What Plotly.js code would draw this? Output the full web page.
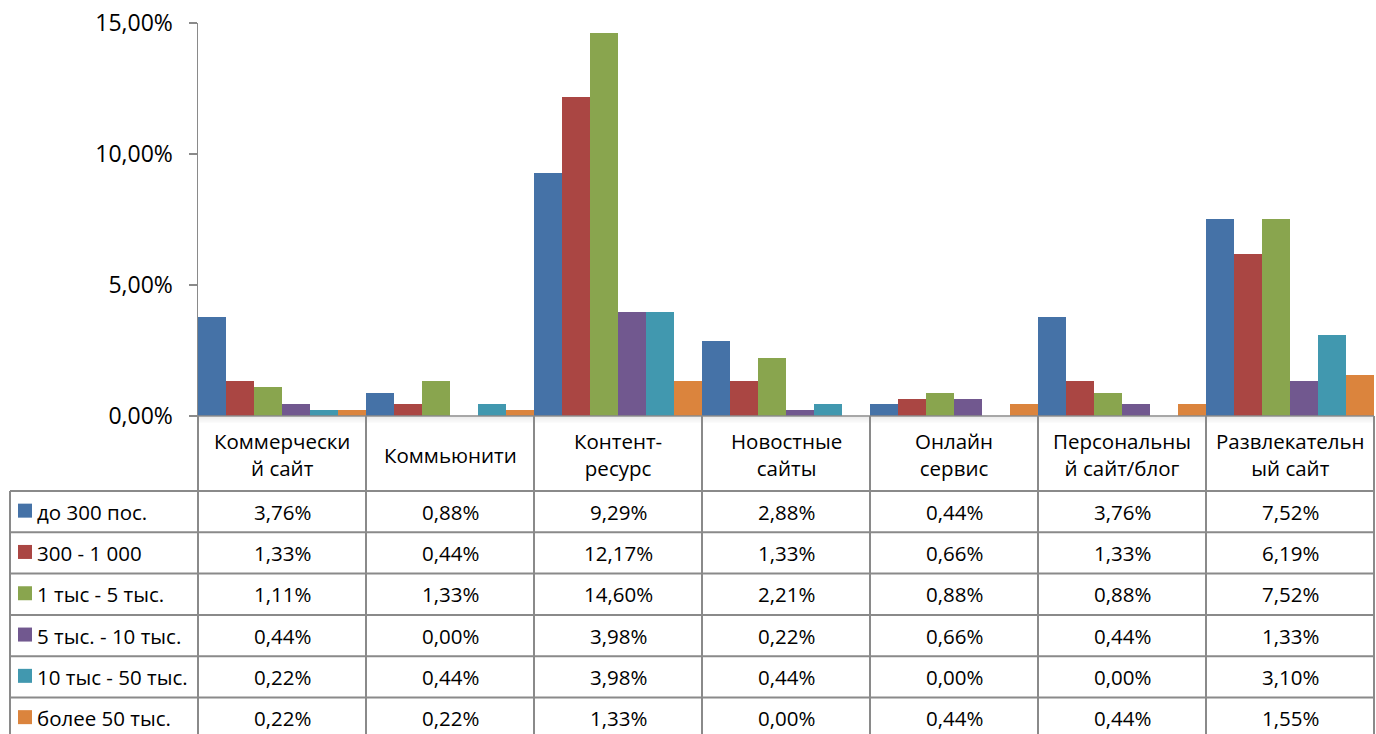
<!DOCTYPE html>
<html>
<head>
<meta charset="utf-8">
<script src="https://cdn.plot.ly/plotly-3.0.1.min.js"></script>
<style>
  html, body { margin: 0; padding: 0; background: #fff; }
  #chart { width: 1376px; height: 734px; }
</style>
</head>
<body>
<div id="chart"></div>
<script>
// Site categories and their wrapped header labels for the data table
const categories = ['Коммерческий сайт', 'Коммьюнити', 'Контент-ресурс', 'Новостные сайты',
                    'Онлайн сервис', 'Персональный сайт/блог', 'Развлекательный сайт'];
const headerLabels = ['Коммерчески<br>й сайт', 'Коммьюнити', 'Контент-<br>ресурс', 'Новостные<br>сайты',
                      'Онлайн<br>сервис', 'Персональны<br>й сайт/блог', 'Развлекательн<br>ый сайт'];

// Traffic groups (series names)
const seriesNames = ['до 300 пос.', '300 - 1 000', '1 тыс - 5 тыс.', '5 тыс. - 10 тыс.',
                     '10 тыс - 50 тыс.', 'более 50 тыс.'];

// Share of sites, percent
const upTo300     = [3.76, 0.88, 9.29, 2.88, 0.44, 3.76, 7.52];
const from300     = [1.33, 0.44, 12.17, 1.33, 0.66, 1.33, 6.19];
const from1k      = [1.11, 1.33, 14.60, 2.21, 0.88, 0.88, 7.52];
const from5k      = [0.44, 0.00, 3.98, 0.22, 0.66, 0.44, 1.33];
const from10k     = [0.22, 0.44, 3.98, 0.44, 0.00, 0.00, 3.10];
const over50k     = [0.22, 0.22, 1.33, 0.00, 0.44, 0.44, 1.55];

const seriesValues = [upTo300, from300, from1k, from5k, from10k, over50k];
const seriesColors = ['#4572A7', '#AA4643', '#89A54E', '#71588F', '#4198AF', '#DB843D'];

// Plot geometry (pixels)
const W = 1376, H = 734;
const L = 198, R = 2, T = 23, B = 318;
const plotW = W - L - R, plotH = H - T - B;
const px2x = px => (px - L) / plotW;
const py2y = py => (H - B - py) / plotH;

const FONT = 'Open Sans, Noto Sans, DejaVu Sans, sans-serif';
const LINE = '#8a8a8a';
const TABLE_FONT = 20.5;

const fmt = v => v.toFixed(2).replace('.', ',') + '%';

const traces = seriesNames.map((name, i) => ({
  type: 'bar',
  name: name,
  x: categories,
  y: seriesValues[i].map(v => v / 100),
  marker: { color: seriesColors[i], line: { width: 0 } },
  hoverinfo: 'skip'
}));

// Data table: grid lines
const shapes = [];
const axisY = H - B;          // 416
const headerBottom = 491;
const rowH = 41.3;
const rowTops = seriesNames.map((_, i) => headerBottom + i * rowH);
const tableLeft = 10;
const tableRight = W - R;

// soft shading under the axis line in the header row
for (let k = 0; k < 6; k++) {
  shapes.push({
    type: 'rect', xref: 'paper', yref: 'paper', layer: 'below',
    x0: px2x(L), x1: px2x(tableRight), y0: py2y(axisY + 1 + k), y1: py2y(axisY + 2 + k),
    line: { width: 0 }, fillcolor: 'rgba(0,0,0,' + (0.07 - k * 0.011).toFixed(3) + ')'
  });
}

// horizontal lines
shapes.push({ type: 'line', xref: 'paper', yref: 'paper',
  x0: px2x(L - 8), x1: px2x(tableRight), y0: py2y(axisY), y1: py2y(axisY),
  line: { color: LINE, width: 1.5 } });
rowTops.forEach(t => shapes.push({ type: 'line', xref: 'paper', yref: 'paper',
  x0: px2x(tableLeft), x1: px2x(tableRight), y0: py2y(t), y1: py2y(t),
  line: { color: LINE, width: 2 } }));

// vertical lines
shapes.push({ type: 'line', xref: 'paper', yref: 'paper',
  x0: px2x(tableLeft), x1: px2x(tableLeft), y0: py2y(headerBottom), y1: py2y(H + 5),
  line: { color: LINE, width: 2 } });
for (let c = 0; c <= categories.length; c++) {
  const x = c / categories.length;
  shapes.push({ type: 'line', xref: 'paper', yref: 'paper',
    x0: x, x1: x, y0: py2y(axisY), y1: py2y(H + 5),
    line: { color: LINE, width: 2 } });
}

// legend keys in the table's first column
seriesNames.forEach((n, i) => {
  const cy = rowTops[i] + rowH / 2 - 1;
  shapes.push({ type: 'rect', xref: 'paper', yref: 'paper',
    x0: px2x(18), x1: px2x(32), y0: py2y(cy - 7), y1: py2y(cy + 7),
    line: { width: 0 }, fillcolor: seriesColors[i] });
});

const annotations = [];
// header row: category names
categories.forEach((c, j) => {
  annotations.push({
    x: c, xref: 'x', y: py2y((axisY + headerBottom) / 2 + 1), yref: 'paper',
    text: headerLabels[j], showarrow: false, xanchor: 'center', yanchor: 'middle',
    font: { family: FONT, size: TABLE_FONT, color: '#000' }, align: 'center'
  });
});
// series rows: names and values
seriesNames.forEach((n, i) => {
  const cy = rowTops[i] + rowH / 2;
  annotations.push({
    x: px2x(35), xref: 'paper', y: py2y(cy), yref: 'paper',
    text: n, showarrow: false, xanchor: 'left', yanchor: 'middle',
    font: { family: FONT, size: TABLE_FONT, color: '#000' }
  });
  seriesValues[i].forEach((v, j) => {
    annotations.push({
      x: categories[j], xref: 'x', y: py2y(cy), yref: 'paper',
      text: fmt(v), showarrow: false, xanchor: 'center', yanchor: 'middle',
      font: { family: FONT, size: TABLE_FONT, color: '#000' }
    });
  });
});

const layout = {
  width: W, height: H,
  margin: { l: L, r: R, t: T, b: B, pad: 0 },
  paper_bgcolor: '#fff', plot_bgcolor: '#fff',
  separators: ', ',
  barmode: 'group', bargap: 0, bargroupgap: 0,
  showlegend: false,
  xaxis: {
    type: 'category', range: [-0.5, categories.length - 0.5],
    showticklabels: false, showline: false, showgrid: false, zeroline: false, ticks: ''
  },
  yaxis: {
    range: [0, 0.15], tickvals: [0, 0.05, 0.10, 0.15], tickformat: '.2%',
    showline: true, linecolor: LINE, linewidth: 1.5,
    ticks: 'outside', ticklen: 8, tickcolor: LINE, tickwidth: 1.5,
    ticklabelstandoff: 11,
    showgrid: false, zeroline: false,
    tickfont: { family: FONT, size: 23, color: '#000' }
  },
  shapes: shapes,
  annotations: annotations
};

Plotly.newPlot('chart', traces, layout, { displayModeBar: false, staticPlot: true });
</script>
</body>
</html>
